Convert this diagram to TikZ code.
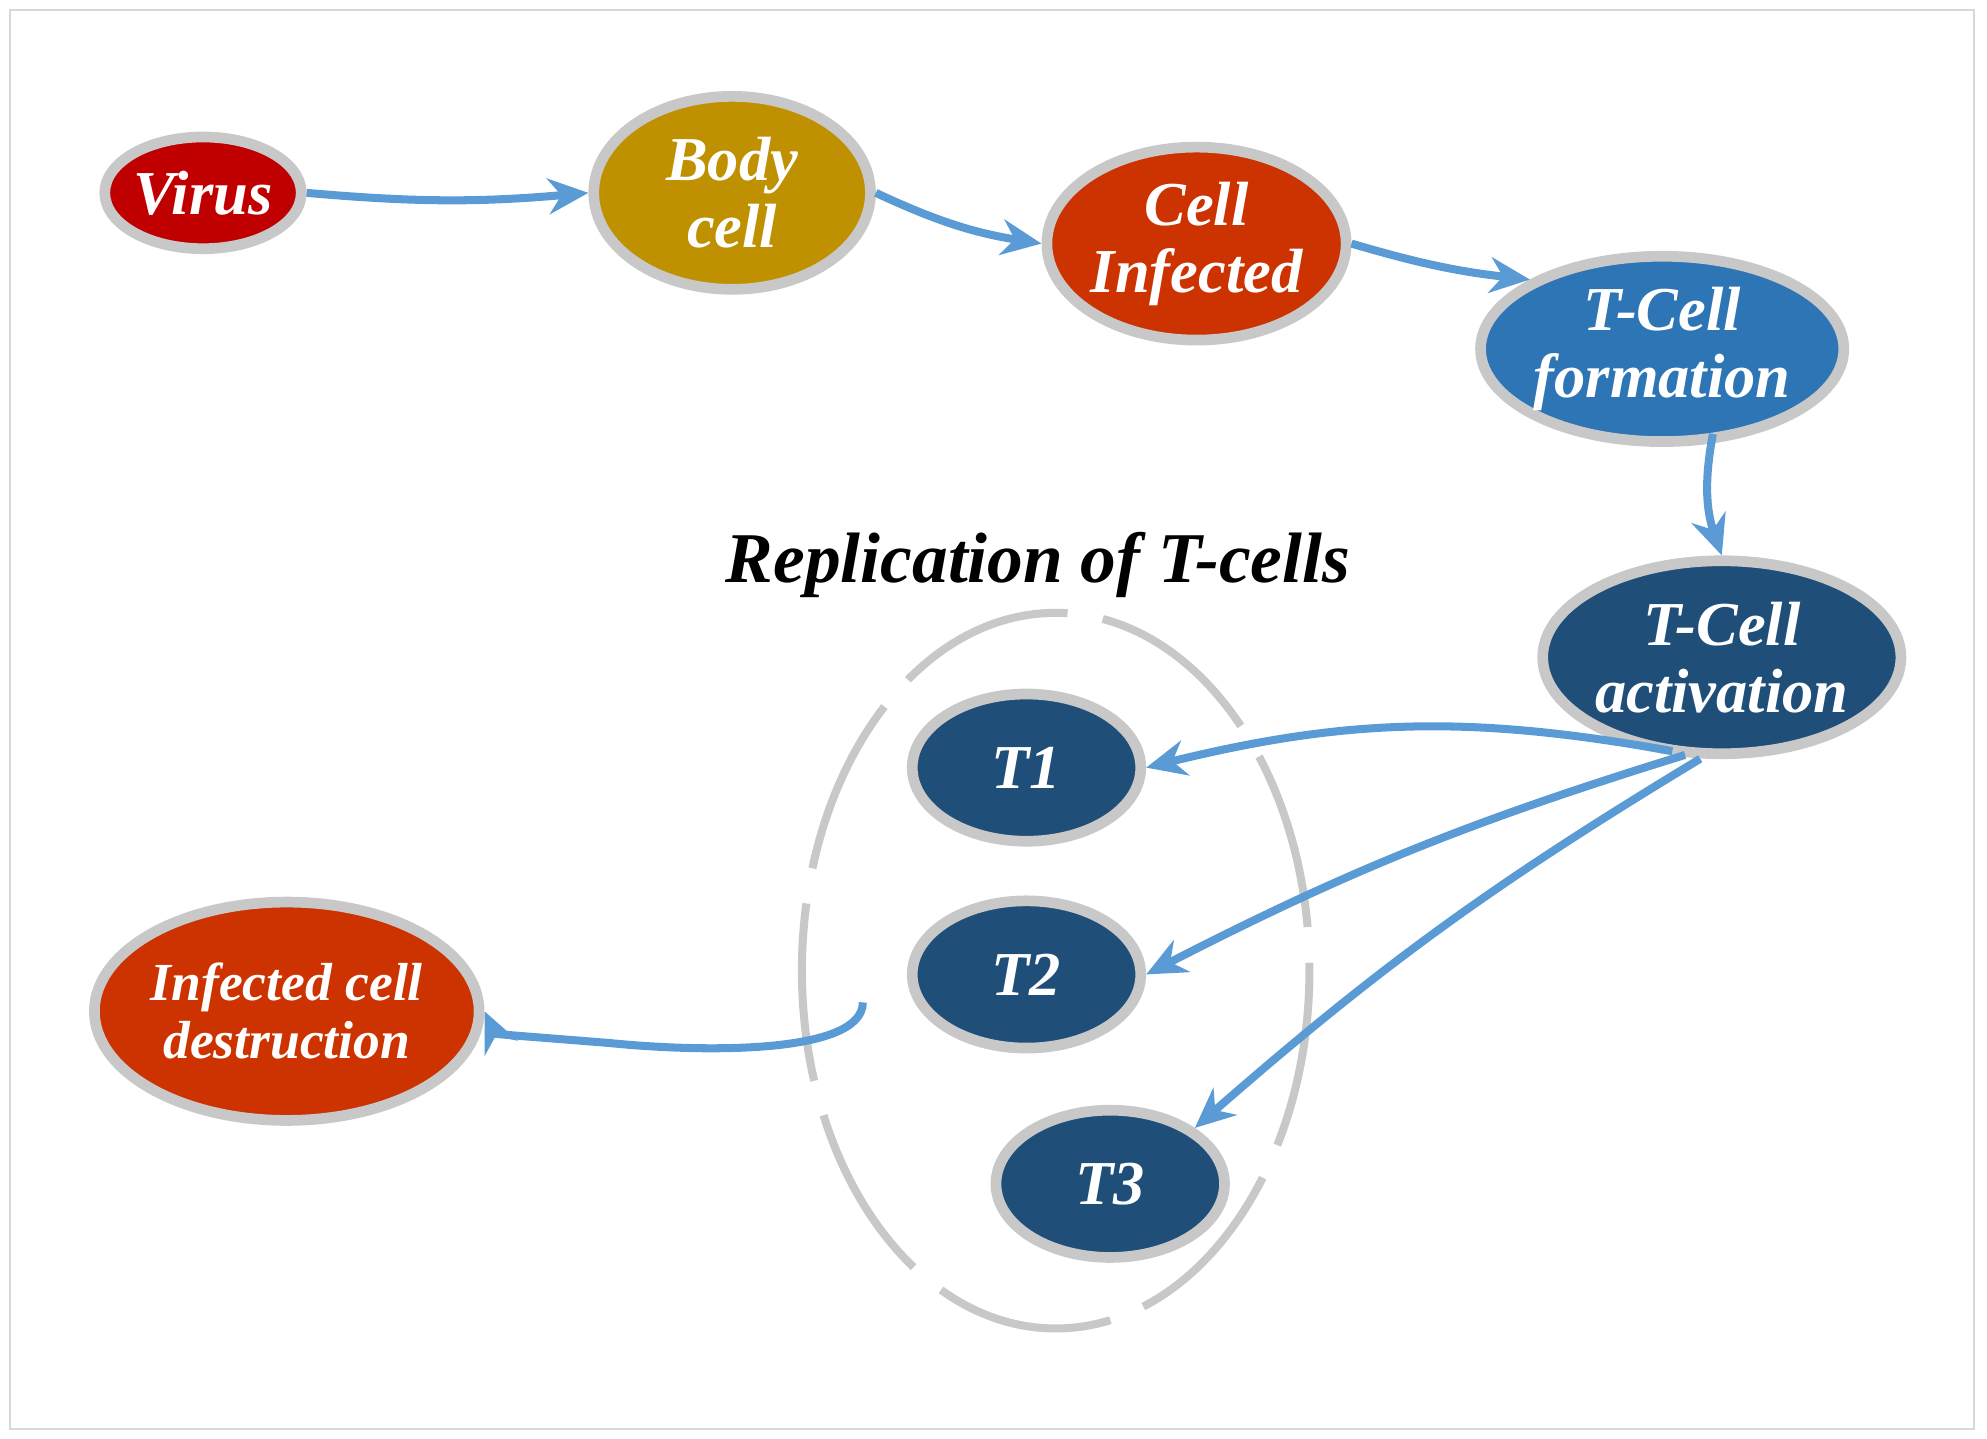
\documentclass[tikz,border=0pt]{standalone}
\usepackage{fontspec}
\setmainfont{Liberation Serif}
\usetikzlibrary{shapes.geometric,arrows.meta}
\definecolor{arr}{RGB}{91,155,213}
\definecolor{rim}{RGB}{200,200,200}
\definecolor{vred}{RGB}{192,0,0}
\definecolor{gold}{RGB}{191,144,0}
\definecolor{ored}{RGB}{204,51,0}
\definecolor{mblue}{RGB}{46,117,182}
\definecolor{dblue}{RGB}{31,78,121}
\begin{document}
\begin{tikzpicture}[x=0.01cm,y=-0.01cm,
 cell/.style={ellipse,draw=rim,line width=2.4pt,text=white,font=\bfseries\itshape\fontsize{14}{15}\selectfont,align=center,inner sep=0pt},
 link/.style={draw=arr,line width=1.8pt,-{Stealth[length=9pt,width=8pt]}}]
\useasboundingbox (0,0) rectangle (1566,1134);
\draw[rim!70,line width=0.4pt] (8,8) rectangle (1556,1126);
\draw[rim,line width=1.8pt,dash pattern=on 40pt off 8pt] (832,765) ellipse [x radius=200,y radius=282];
\node[font=\bfseries\itshape\fontsize{16}{18}\selectfont] (title) at (818,445) {Replication of T-cells};
\node[cell,fill=vred,minimum width=1.2cm,minimum height=0.88cm] (v) at (160,152) {Virus};
\node[cell,fill=gold,minimum width=2.18cm,minimum height=1.52cm] (b) at (577,152) {Body\\cell};
\node[cell,fill=ored,minimum width=2.26cm,minimum height=1.52cm] (ci) at (943,192) {Cell\\Infected};
\node[cell,fill=mblue,minimum width=2.26cm,minimum height=1.46cm] (f) at (1310,275) {T-Cell\\formation};
\node[cell,fill=dblue,minimum width=2.26cm,minimum height=1.52cm] (a) at (1357,518) {T-Cell\\activation};
\node[cell,fill=dblue,minimum width=1.8cm,minimum height=1.16cm] (t1) at (809,605) {T1};
\node[cell,fill=dblue,minimum width=1.8cm,minimum height=1.16cm] (t2) at (809,768) {T2};
\node[cell,fill=dblue,minimum width=1.8cm,minimum height=1.16cm] (t3) at (875,933) {T3};
\node[cell,fill=ored,minimum width=2.62cm,minimum height=1.72cm,font=\bfseries\itshape\fontsize{12}{13}\selectfont] (d) at (226,797) {Infected cell\\destruction};
\coordinate (s) at (680,790);
\coordinate (a1) at (1318,592);
\coordinate (a2) at (1328,595);
\coordinate (a3) at (1340,598);
\coordinate (fb) at (1350,342);
\path[link] (v.east) to[bend right=5] (b.west);
\path[link] (b.east) to[bend right=8] (ci.west);
\path[link] (ci.east) to[bend right=5] (f.north west);
\path[link] (fb) to[bend right=15] (a.north);
\path[link] (a1) to[bend right=12] (t1.east);
\path[link] (a2) to[bend right=5] (t2.east);
\path[link] (a3) to[bend right=5] (t3.north east);
\path[link] (s) .. controls (680,830) and (560,830) .. (480,822) .. controls (430,818) and (390,815) .. (d.east);
\end{tikzpicture}
\end{document}
